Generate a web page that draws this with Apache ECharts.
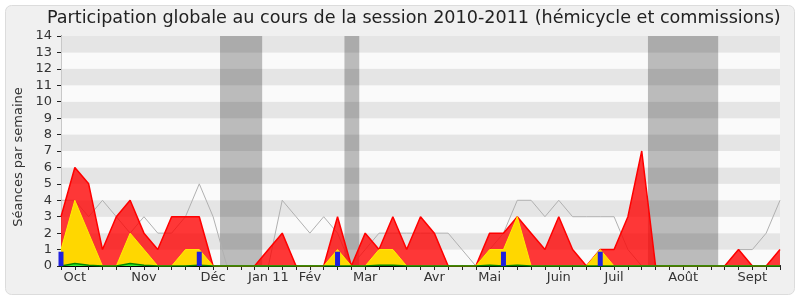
<!DOCTYPE html>
<html>
<head>
<meta charset="utf-8">
<script src="https://cdn.jsdelivr.net/npm/echarts@6/dist/echarts.min.js"></script>
<style>html,body{margin:0;padding:0;background:#fff;}#c{width:800px;height:300px;}</style>
</head>
<body>
<div id="c"></div>
<script>
// Weekly values, week index 0..52
const totalSeances = [3,6,5,1,3,4,2,1,3,3,3,0,0,0,0,1,2,0,0,0,3,0,2,1,3,1,3,2,0,0,0,2,2,3,2,1,3,1,0,1,1,3,7,0,0,0,0,0,0,1,0,0,1];
const hemicycle    = [1,4,2,0,0,2,1,0,0,1,1,0,0,0,0,0,0,0,0,0,1,0,0,1,1,0,0,0,0,0,0,1,1,3,0,0,0,0,0,1,0,0,0,0,0,0,0,0,0,0,0,0,0];
const questions    = [0,0.15,0.05,0,0,0.15,0.05,0,0,0,0.05,0,0,0,0,0,0,0,0,0,0,0,0,0.05,0.05,0,0,0,0,0,0,0.05,0,0.05,0,0,0,0,0,0,0,0,0,0,0,0,0,0,0,0,0,0,0];
const mediane      = [4,4,3,4,3,2,3,2,2,3,5,3,0,0,0,0,4,3,2,3,2,0,1,2,2,2,2,2,2,1,0,1,2,4,4,3,4,3,3,3,3,1,0,0,0,0,0,0,0,1,1,2,4];
const interventionWeeks = [0,10,20,32,39];
const interventionValues = [0.87,0.87,0.87,0.87,0.87];
const vacations = [[11.5,14.55],[20.5,21.57],[42.45,47.53]];
const monthWeeks  = [1,6,11,15,18,22,27,31,36,40,45,50];
const monthLabels = ['Oct','Nov','Déc','Jan 11','Fév','Mar','Avr','Mai','Juin','Juil','Août','Sept'];
const yTicks = [0,14,1];

const pairs = arr => arr.map((v,i)=>[i,v]);
const labelMap = {};
monthWeeks.forEach((w,k)=>{labelMap[w]=monthLabels[k];});
const FONT = 'DejaVu Sans';

const chart = echarts.init(document.getElementById('c'), null, {renderer:'canvas'});
chart.setOption({
  animation:false,
  backgroundColor:'#ffffff',
  graphic:[
    {type:'rect',z:-10,shape:{x:5.5,y:5.5,width:789,height:289,r:6},style:{fill:'#f0f0f0',stroke:'#dcdcdc',lineWidth:1}},
    {type:'text',z:10,x:18.5,y:157,rotation:Math.PI/2,
     style:{text:'Séances par semaine',font:'13px "DejaVu Sans"',fill:'#333',textAlign:'center',textVerticalAlign:'middle'}}
  ],
  title:{text:'Participation globale au cours de la session 2010-2011 (hémicycle et commissions)',left:47,top:9,padding:0,
    textStyle:{fontFamily:FONT,fontSize:17.6,fontWeight:'normal',color:'#222'}},
  grid:{left:61,right:20,top:36,bottom:34,containLabel:false},
  xAxis:[{type:'value',min:0,max:52,interval:1,
    axisLine:{show:true,lineStyle:{color:'#000',width:1}},
    axisTick:{show:true,length:4,lineStyle:{color:'#222'}},
    axisLabel:{show:true,margin:5,fontFamily:FONT,fontSize:13,color:'#333',formatter:v=>labelMap[v]||''},
    splitLine:{show:false}},
   {type:'value',min:0,max:52,interval:1,position:'top',
    axisLine:{show:false},axisTick:{show:true,length:1,lineStyle:{color:'#333'}},axisLabel:{show:false},splitLine:{show:false}}],
  yAxis:[{type:'value',min:yTicks[0],max:yTicks[1],interval:yTicks[2],
    axisLine:{show:true,lineStyle:{color:'#000'}},
    axisTick:{show:true,length:4,lineStyle:{color:'#222'}},
    axisLabel:{fontFamily:FONT,fontSize:13,color:'#333',margin:9},
    splitLine:{show:false},
    splitArea:{show:true,areaStyle:{color:['#fafafa','#e5e5e5']}}},
   {type:'value',min:yTicks[0],max:yTicks[1],interval:yTicks[2],position:'right',
    axisLine:{show:true,lineStyle:{color:'#c8c8c8'}},axisTick:{show:false},axisLabel:{show:false},splitLine:{show:false}}],
  series:[
    {type:'line',name:'vac',data:[],z:1,silent:true,
     markArea:{silent:true,itemStyle:{color:'rgba(0,0,0,0.25)'},data:vacations.map(v=>[{xAxis:v[0]},{xAxis:v[1]}])}},
    {type:'line',name:'mediane',data:pairs(mediane),symbol:'none',z:2,lineStyle:{color:'#b0b0b0',width:1}},
    {type:'line',name:'total',data:pairs(totalSeances),symbol:'none',z:3,
     lineStyle:{color:'#ff0000',width:1.5},areaStyle:{color:'rgba(255,0,0,0.78)',opacity:1}},
    {type:'line',name:'hemicycle',data:pairs(hemicycle),symbol:'none',z:4,
     lineStyle:{color:'#ffee00',width:1},areaStyle:{color:'#ffd700',opacity:1}},
    {type:'line',name:'questions',data:pairs(questions),symbol:'none',z:5,
     lineStyle:{color:'#008800',width:1.5},areaStyle:{color:'#33ee33',opacity:1}},
    {type:'bar',name:'interventions',data:interventionWeeks.map((w,k)=>[w,interventionValues[k]]),barWidth:5,z:6,
     itemStyle:{color:'#2020dd'}}
  ]
});
</script>
</body>
</html>
